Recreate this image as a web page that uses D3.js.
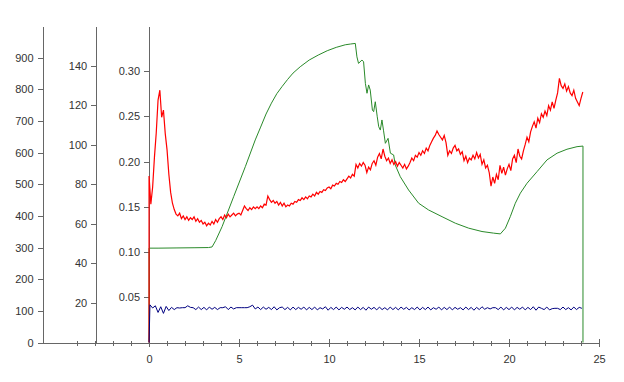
<!DOCTYPE html>
<html>
<head>
<meta charset="utf-8">
<script src="https://cdn.jsdelivr.net/npm/d3@7/dist/d3.min.js"></script>
<style>
  body { margin: 0; background: #fff; }
  svg { display: block; font-family: "Liberation Sans", Arial, sans-serif; }
</style>
</head>
<body>
<div id="chart"></div>
<script>
// tick labels
const xTicks = [0, 5, 10, 15, 20, 25];
const outerTicks = [0, 100, 200, 300, 400, 500, 600, 700, 800, 900];
const middleTicks = [20, 40, 60, 80, 100, 120, 140];
const innerTicks = [0.05, 0.10, 0.15, 0.20, 0.25, 0.30];

// red series (inner axis), sampled every 0.1
const redStep = 0.1;
const redValues = [
  0.184, 0.153, 0.172, 0.205, 0.232, 0.268, 0.279, 0.249, 0.257, 0.231,
  0.213, 0.186, 0.166, 0.154, 0.147, 0.142, 0.140, 0.143, 0.137, 0.140,
  0.136, 0.139, 0.135, 0.138, 0.136, 0.139, 0.134, 0.137, 0.133, 0.135,
  0.131, 0.133, 0.129, 0.132, 0.130, 0.134, 0.131, 0.136, 0.133, 0.137,
  0.139, 0.136, 0.141, 0.138, 0.142, 0.139, 0.141, 0.143, 0.140, 0.142,
  0.143, 0.141, 0.146, 0.151, 0.148, 0.146, 0.149, 0.147, 0.150, 0.148,
  0.150, 0.148, 0.151, 0.149, 0.153, 0.152, 0.162, 0.158, 0.155, 0.157,
  0.154, 0.156, 0.152, 0.155, 0.151, 0.154, 0.150, 0.152, 0.151, 0.154,
  0.153, 0.156, 0.155, 0.158, 0.157, 0.160, 0.158, 0.161, 0.159, 0.162,
  0.161, 0.164, 0.162, 0.166, 0.164, 0.167, 0.166, 0.169, 0.168, 0.171,
  0.172, 0.170, 0.174, 0.173, 0.176, 0.175, 0.178, 0.177, 0.180, 0.178,
  0.181, 0.184, 0.182, 0.186, 0.184, 0.197, 0.193, 0.198, 0.195, 0.199,
  0.196, 0.188, 0.194, 0.191, 0.198, 0.201, 0.196, 0.205, 0.209, 0.203,
  0.214, 0.206, 0.201, 0.204, 0.198, 0.202, 0.197, 0.200, 0.195, 0.199,
  0.196, 0.193, 0.197, 0.192, 0.195, 0.199, 0.204, 0.201, 0.207, 0.205,
  0.210, 0.207, 0.212, 0.209, 0.215, 0.212, 0.218, 0.222, 0.226, 0.229,
  0.234, 0.230, 0.227, 0.224, 0.229, 0.221, 0.207, 0.212, 0.209, 0.215,
  0.218, 0.212, 0.214, 0.208, 0.211, 0.201, 0.206, 0.199, 0.204, 0.202,
  0.207, 0.203, 0.210, 0.204, 0.208, 0.197, 0.202, 0.193, 0.196, 0.188,
  0.173, 0.183, 0.176, 0.186, 0.180, 0.196, 0.187, 0.194, 0.185, 0.192,
  0.197, 0.190, 0.203, 0.207, 0.199, 0.214, 0.206, 0.203, 0.212, 0.219,
  0.227, 0.222, 0.233, 0.239, 0.244, 0.237, 0.248, 0.243, 0.253, 0.249,
  0.256, 0.251, 0.262, 0.257, 0.266, 0.259, 0.268, 0.276, 0.292, 0.284,
  0.281, 0.286, 0.278, 0.283, 0.276, 0.273, 0.279, 0.270, 0.266, 0.262,
  0.270, 0.277
];

// green series (middle axis)
const greenTimes = [
  0, 0, 0.5, 1.5, 2.5, 3.3, 3.5, 3.7, 4.06, 4.7, 5.35, 5.9, 6.2, 6.5, 6.8,
  7.1, 7.4, 7.7, 8.0, 8.4, 8.9, 9.4, 9.9, 10.4, 10.9, 11.2, 11.46, 11.55, 11.64,
  11.83, 11.92, 12.02, 12.11, 12.2, 12.29, 12.41, 12.48, 12.57, 12.68, 12.76,
  12.85, 12.94, 13.03, 13.13, 13.28, 13.41, 13.59, 13.68, 13.96, 14.42, 14.98,
  15.53, 16.28, 17.02, 17.76, 18.5, 19.14, 19.52, 19.8, 20.07, 20.35, 20.63,
  21.0, 21.56, 22.11, 22.67, 23.22, 23.78, 24.11, 24.11
];
const greenValues = [
  0, 47.7, 47.7, 47.8, 47.9, 48.0, 48.3, 51.5, 58.6, 73.7, 88.9, 102.4, 108.9,
  115.5, 121.0, 125.8, 129.5, 133.0, 136.2, 139.4, 142.8, 145.3, 147.5, 149.2,
  150.5, 150.9, 151.2, 144.4, 141.1, 142.8, 141.9, 131.0, 126.0, 130.2, 127.6,
  117.5, 116.7, 121.7, 114.1, 109.1, 107.4, 112.5, 107.0, 100.7, 103.2, 95.7,
  94.8, 89.7, 83.8, 77.1, 70.4, 67.0, 63.6, 60.3, 57.8, 56.1, 55.3, 54.9, 57.8,
  63.6, 70.4, 75.5, 80.5, 86.4, 92.3, 95.7, 97.7, 99.0, 99.3, 0
];

// blue series (outer axis), sampled every 0.15 from 0.05
const blueStart = 0.05;
const blueStep = 0.15;
const blueValues = [
  119, 109, 116, 95, 113, 92, 114, 101, 111, 104,
  110, 109, 110, 110, 116, 111, 110, 104, 112, 104,
  111, 103, 112, 105, 111, 104, 110, 110, 113, 104,
  112, 106, 110, 110, 110, 110, 110, 113, 118, 106,
  112, 104, 112, 105, 111, 104, 113, 103, 110, 112,
  104, 111, 103, 112, 104, 111, 105, 112, 103, 111,
  104, 112, 103, 110, 106, 113, 102, 111, 104, 112,
  103, 111, 105, 112, 104, 110, 103, 112, 104, 111,
  102, 112, 105, 111, 103, 112, 104, 110, 103, 112,
  104, 111, 103, 112, 105, 111, 103, 110, 104, 112,
  103, 111, 104, 112, 103, 110, 105, 112, 103, 111,
  104, 112, 103, 111, 105, 110, 103, 112, 104, 111,
  102, 111, 104, 113, 105, 110, 106, 110, 110, 104,
  112, 103, 111, 104, 112, 103, 111, 105, 112, 103,
  111, 104, 113, 102, 112, 108, 104, 112, 103, 107,
  108, 108, 104, 112, 104, 110, 103, 112, 104, 111,
  108
];

const width = 624, height = 382;
const plotTop = 26, plotBottom = 342.5;
const axisColor = '#666';
const textColor = '#333';

const svg = d3.select('#chart').append('svg')
  .attr('width', width)
  .attr('height', height);

svg.append('rect').attr('width', width).attr('height', height).attr('fill', '#fff');

// x extends left so the two extra y axes sit on it
const x = d3.scaleLinear().domain([-5.92, 25]).range([42.5, 599]);
const outerAxisAt = -5.92, middleAxisAt = -2.94;

const yOuter = d3.scaleLinear().domain([0, 1000]).range([plotBottom, plotTop]);
const yMiddle = d3.scaleLinear().domain([0, 160]).range([plotBottom, plotTop]);
const yInner = d3.scaleLinear().domain([0, 0.35]).range([plotBottom, plotTop]);

function styleAxis(g) {
  g.selectAll('.domain').attr('stroke', axisColor).attr('shape-rendering', 'crispEdges');
  g.selectAll('.tick line').attr('stroke', axisColor).attr('shape-rendering', 'crispEdges');
  g.selectAll('.tick text').attr('fill', textColor)
    .style('font-size', '11px')
    .style('font-family', '"Liberation Sans", Arial, sans-serif');
}

// minor x ticks
const minorX = d3.range(-5, 25).filter(d => d % 5 !== 0);
svg.append('g')
  .attr('transform', `translate(0,${plotBottom})`)
  .call(d3.axisBottom(x).tickValues(minorX).tickSize(3).tickFormat('').tickSizeOuter(0))
  .call(styleAxis)
  .call(g => g.selectAll('.tick line').attr('y1', -2));

// major x ticks
svg.append('g')
  .attr('transform', `translate(0,${plotBottom})`)
  .call(d3.axisBottom(x).tickValues(xTicks).tickSize(4).tickPadding(9).tickSizeOuter(0))
  .call(styleAxis)
  .call(g => g.selectAll('.tick line').attr('y1', -4));

// y axes
svg.append('g')
  .attr('transform', `translate(${x(outerAxisAt)},0)`)
  .call(d3.axisLeft(yOuter).tickValues(outerTicks).tickSize(5).tickPadding(4).tickSizeOuter(0))
  .call(styleAxis);

svg.append('g')
  .attr('transform', `translate(${x(middleAxisAt)},0)`)
  .call(d3.axisLeft(yMiddle).tickValues(middleTicks).tickSize(5).tickPadding(4).tickSizeOuter(0))
  .call(styleAxis);

svg.append('g')
  .attr('transform', `translate(${x(0)},0)`)
  .call(d3.axisLeft(yInner).tickValues(innerTicks).tickSize(5).tickPadding(4)
    .tickFormat(d3.format('.2f')).tickSizeOuter(0))
  .call(styleAxis);

// series
const greenData = greenTimes.map((t, i) => ({ t, v: greenValues[i] }));
const redData = [{ t: 0, v: 0 }].concat(redValues.map((v, i) => ({ t: i * redStep, v })));
const blueData = [{ t: 0, v: 0 }].concat(blueValues.map((v, i) => ({ t: blueStart + i * blueStep, v })));

svg.append('path')
  .datum(greenData)
  .attr('fill', 'none')
  .attr('stroke', '#2a8a2a')
  .attr('stroke-width', 1)
  .attr('d', d3.line().x(d => x(d.t)).y(d => yMiddle(d.v)));

svg.append('path')
  .datum(redData)
  .attr('fill', 'none')
  .attr('stroke', '#ff0000')
  .attr('stroke-width', 1.2)
  .attr('d', d3.line().x(d => x(d.t)).y(d => yInner(d.v)));

svg.append('path')
  .datum(blueData)
  .attr('fill', 'none')
  .attr('stroke', '#000080')
  .attr('stroke-width', 1)
  .attr('d', d3.line().x(d => x(d.t)).y(d => yOuter(d.v)));
</script>
</body>
</html>
